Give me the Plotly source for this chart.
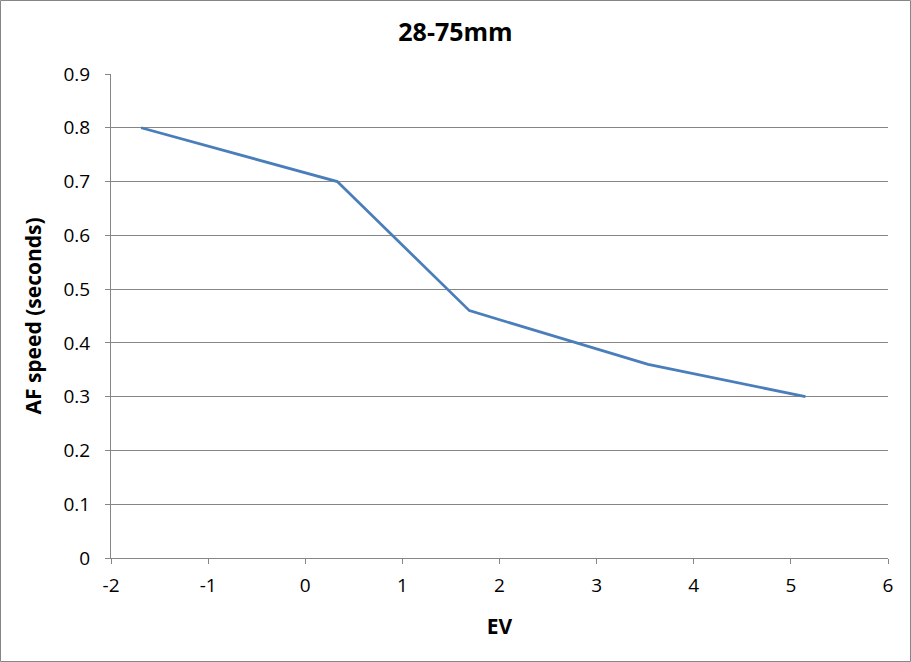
import plotly.graph_objects as go

ev = [-1.69, 0.33, 1.69, 3.53, 5.15]
af_speed = [0.80, 0.70, 0.46, 0.36, 0.30]
x_ticks = [-2, -1, 0, 1, 2, 3, 4, 5, 6]
y_ticks = [0, 0.1, 0.2, 0.3, 0.4, 0.5, 0.6, 0.7, 0.8, 0.9]

W, H = 911, 662
ml, mr, mt, mb = 111, 23, 74, 104

fig = go.Figure()
fig.add_trace(go.Scatter(x=ev, y=af_speed, mode="lines",
                         line=dict(color="#4a7ebb", width=2.75)))

fig.update_layout(
    width=W, height=H,
    margin=dict(l=ml, r=mr, t=mt, b=mb),
    paper_bgcolor="white", plot_bgcolor="white",
    showlegend=False,
    font=dict(family="Open Sans, Liberation Sans, sans-serif", color="black"),
    title=dict(text="<b>28-75mm</b>", x=0.5, xanchor="center", y=1 - 32 / H, yanchor="middle",
               font=dict(size=25, color="black")),
    xaxis=dict(range=[-2, 6], tickvals=x_ticks, ticktext=[str(v) for v in x_ticks],
               showgrid=False, zeroline=False, showline=True, linecolor="#868686", linewidth=1,
               ticks="outside", ticklen=5, tickcolor="#868686",
               tickfont=dict(size=19), ticklabelstandoff=5,
               title=dict(text="<b>EV</b>", font=dict(size=21), standoff=22)),
    yaxis=dict(range=[0, 0.9], tickvals=y_ticks, ticktext=[("%g" % v) for v in y_ticks],
               showgrid=True, gridcolor="#868686", gridwidth=1, zeroline=False,
               showline=True, linecolor="#868686", linewidth=1,
               ticks="outside", ticklen=5, tickcolor="#868686",
               tickfont=dict(size=19), ticklabelstandoff=11,
               title=dict(text="<b>AF speed (seconds)</b>", font=dict(size=21), standoff=16)),
)

pw = W - ml - mr
ph = H - mt - mb
fig.add_shape(type="rect", xref="paper", yref="paper",
              x0=(0.5 - ml) / pw, x1=(W - 0.5 - ml) / pw,
              y0=-(mb - 0.5) / ph, y1=(ph + mt - 0.5) / ph,
              line=dict(color="#868686", width=1), fillcolor="rgba(0,0,0,0)", layer="below")

fig.write_html("out.html", config={"displayModeBar": False},
               post_script="document.body.style.margin='0';document.body.style.overflow='hidden';")
